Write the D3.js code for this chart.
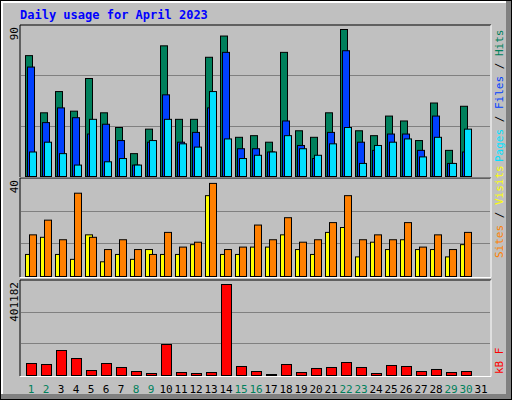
<!DOCTYPE html>
<html><head><meta charset="utf-8">
<script src="https://cdn.jsdelivr.net/npm/d3@7"></script>
<style>body{margin:0;background:#fff}</style>
</head><body>
<svg id="chart" width="512" height="400"></svg>
<script>
var days=d3.range(1,32);
var weekends=[1,2,8,9,15,16,22,23,29,30];
var hits=[74,39,52,40,60,39,30,14,29,80,35,35,73,86,24,25,21,76,28,24,39,90,28,25,37,34,22,45,16,43];
var files=[67,33,42,36,26,32,22,7,21,50,21,27,42,76,17,17,15,34,19,11,27,77,21,16,26,26,16,37,8,15];
var pages=[15,21,14,7,35,9,11,7,22,35,20,18,52,23,11,13,15,25,17,13,20,30,8,19,21,23,12,24,8,29];
var visits=[9,16,9,7,17,6,9,7,11,9,9,13,33,9,9,12,12,17,11,9,18,20,8,14,11,15,11,11,8,13];
var sites=[17,23,15,34,16,11,15,11,9,18,12,14,38,11,12,21,15,24,14,15,22,33,15,17,15,22,12,17,11,18];
var kbytes=[52900,48500,110200,74900,22000,52900,35300,17600,8800,136700,13200,8800,13200,401182,39700,17600,4400,48500,13200,30900,35300,57300,35300,8800,44100,39700,17600,26500,13200,17600];

var svg=d3.select("#chart");
var mono="'DejaVu Sans Mono', monospace";

// frame
svg.append("rect").attr("x",0).attr("y",0).attr("width",512).attr("height",400).attr("fill","#000");
svg.append("rect").attr("x",1).attr("y",1).attr("width",510).attr("height",398).attr("fill","#808080");
svg.append("rect").attr("x",1).attr("y",1).attr("width",505).attr("height",393).attr("fill","#fff");
svg.append("rect").attr("x",3).attr("y",3).attr("width",503).attr("height",391).attr("fill","#c0c0c0");

svg.append("text").attr("x",20).attr("y",19).attr("fill","#0000ff")
  .attr("font-family",mono).attr("font-weight","bold").attr("font-size",12)
  .text("Daily usage for April 2023");

var x=d3.scaleBand().domain(days).range([21,486]).paddingInner(0);

var panels=[
  {top:25,bottom:176,max:90*151/147,label:"90"},
  {top:178,bottom:276,max:40,label:"40"},
  {top:280,bottom:375,max:401182*95/91,label:"401182"}
];

panels.forEach(function(p,i){
  // inset box
  svg.append("rect").attr("x",20).attr("y",p.top).attr("width",471).attr("height",p.bottom-p.top+1)
    .attr("fill","#c0c0c0");
  svg.append("path").attr("d","M20,"+(p.bottom+1)+"V"+p.top+"H491").attr("stroke","#000").attr("fill","none");
  svg.append("path").attr("d","M20,"+(p.bottom+1.5)+"H491V"+p.top).attr("stroke","#fff").attr("fill","none");
  p.y=d3.scaleLinear().domain([0,p.max]).range([p.bottom,p.top]);
  var h=p.bottom-p.top;
  [1,2].forEach(function(k){
    svg.append("line").attr("x1",21).attr("x2",490)
      .attr("y1",Math.round(p.bottom-h*k/3)+0.5).attr("y2",Math.round(p.bottom-h*k/3)+0.5)
      .attr("stroke","#808080");
  });
  svg.append("text").attr("transform","translate(18,"+(p.top+2)+") rotate(-90)")
    .attr("text-anchor","end").attr("font-family",mono).attr("font-size",11).text(p.label);
});

function bars(data,yscale,dx,w,color){
  svg.append("g").selectAll("rect").data(data).enter().append("rect")
    .attr("x",function(d,i){return x(days[i])+dx+0.5})
    .attr("y",function(d){return yscale(d)+0.5})
    .attr("width",w)
    .attr("height",function(d){return Math.max(1,yscale(0)-yscale(d))})
    .attr("fill",color).attr("stroke","#000");
}
bars(hits,panels[0].y,4,7,"#00805c");
bars(files,panels[0].y,6,7,"#0040ff");
bars(pages,panels[0].y,8,7,"#00e0ff");
bars(visits,panels[1].y,4,7,"#ffff00");
bars(sites,panels[1].y,8,7,"#ff8000");
bars(kbytes,panels[2].y,5,10,"#ff0000");

// x labels
svg.append("g").selectAll("text").data(days).enter().append("text")
  .attr("x",function(d){return x(d)+10}).attr("y",393)
  .attr("text-anchor","middle").attr("font-family",mono).attr("font-size",11)
  .attr("fill",function(d){return weekends.indexOf(d)>=0?"#00805c":"#000"})
  .text(function(d){return d});

// right side legends
function legend(parts,yBottom){
  var t=svg.append("text").attr("transform","translate(503,"+yBottom+") rotate(-90)")
    .attr("font-family",mono).attr("font-size",11);
  parts.forEach(function(p){t.append("tspan").attr("fill",p[1]).text(p[0])});
}
legend([["Pages","#00e0ff"],[" / ","#000"],["Files","#0040ff"],[" / ","#000"],["Hits","#00805c"]],162);
legend([["Sites","#ff8000"],[" / ","#000"],["Visits","#ffff00"]],258);
legend([["kB F","#ff0000"]],374);
</script>
</body></html>
